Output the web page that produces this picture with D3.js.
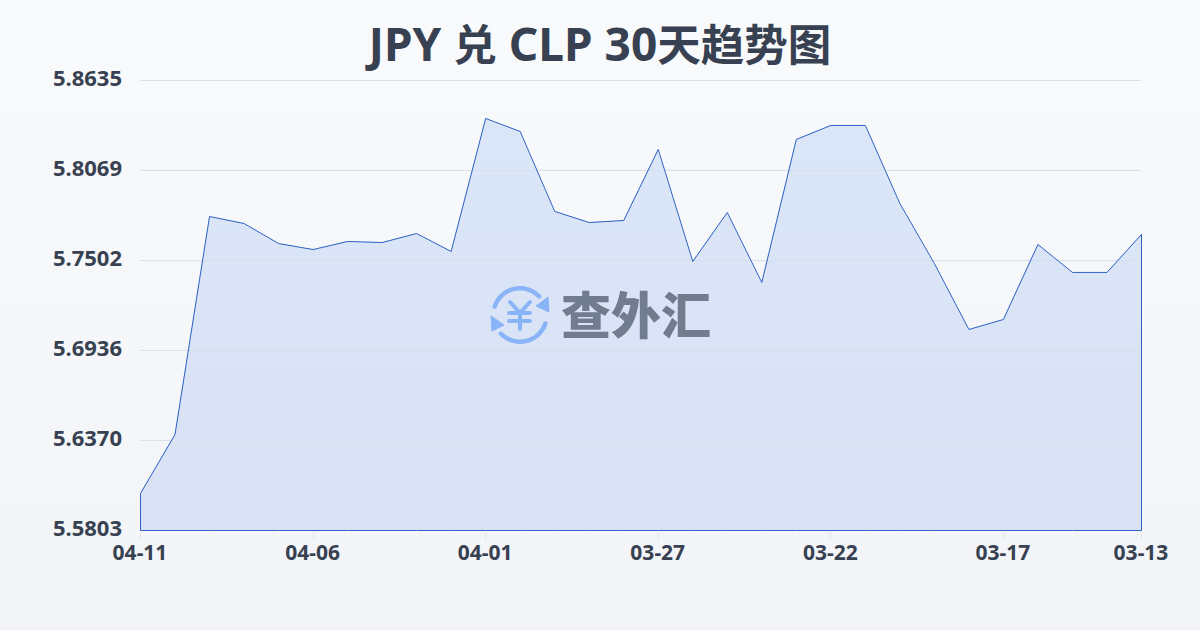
<!DOCTYPE html>
<html><head><meta charset="utf-8">
<script src="https://cdn.jsdelivr.net/npm/d3@7"></script>
<style>html,body{margin:0;padding:0;width:1200px;height:630px;overflow:hidden}svg{display:block}text{font-family:"Noto Sans","Noto Sans CJK SC",sans-serif}</style>
</head><body><svg id="c" width="1200" height="630"></svg>
<script>
const titleParts = ["JPY ","兑"," CLP 30","天趋势图"];
const dates = ["04-11","04-10","04-09","04-08","04-07","04-06","04-05","04-04","04-03","04-02","04-01","03-31","03-30","03-29","03-28","03-27","03-26","03-25","03-24","03-23","03-22","03-21","03-20","03-19","03-18","03-17","03-16","03-15","03-14","03-13"];
const rates = [5.6036,5.6407,5.7779,5.7735,5.7609,5.7571,5.7622,5.7615,5.7672,5.7559,5.8396,5.8314,5.7811,5.7741,5.7754,5.8201,5.7496,5.7804,5.7364,5.8264,5.8352,5.8352,5.7861,5.7483,5.7068,5.7131,5.7603,5.7427,5.7427,5.7666];
const yTicks = ["5.5803","5.6370","5.6936","5.7502","5.8069","5.8635"];
const xTicks = ["04-11","04-06","04-01","03-27","03-22","03-17","03-13"];
const watermark = "查外汇";

const svg = d3.select("#c");
const defs = svg.append("defs");
const bg = defs.append("linearGradient").attr("id","bg").attr("x1",0).attr("y1",0).attr("x2",0).attr("y2",1);
bg.append("stop").attr("offset",0).attr("stop-color","#f9fafc");
bg.append("stop").attr("offset",1).attr("stop-color","#f2f4f7");
const fg = defs.append("linearGradient").attr("id","fg").attr("gradientUnits","userSpaceOnUse").attr("x1",0).attr("y1",80).attr("x2",0).attr("y2",530);
fg.append("stop").attr("offset",0).attr("stop-color","#dbe6f9");
fg.append("stop").attr("offset",1).attr("stop-color","#d9e2f4");
svg.append("rect").attr("width",1200).attr("height",630).attr("fill","url(#bg)");

const x = d3.scalePoint().domain(dates).range([140,1141]);
const y = d3.scaleLinear().domain([5.5803,5.8635]).range([530,80]);

svg.append("text").attr("x",600).attr("y",61).attr("text-anchor","middle")
  .attr("font-weight",700).attr("fill","#374151")
  .selectAll("tspan").data(titleParts).join("tspan")
  .attr("font-size",(d,i)=>i%2?43.5:46).text(d=>d);

svg.append("g").selectAll("line").data(yTicks.slice(1)).join("line")
  .attr("x1",140).attr("x2",1141).attr("y1",d=>y(+d)+.5).attr("y2",d=>y(+d)+.5)
  .attr("stroke","#e5e7eb").attr("stroke-width",1);

const area = d3.area().x((d,i)=>x(dates[i])).y0(y(5.5803)).y1(d=>y(d));
svg.append("path").datum(rates).attr("d",area).attr("fill","url(#fg)");
svg.append("g").selectAll("line").data(yTicks.slice(1)).join("line")
  .attr("x1",140).attr("x2",1141).attr("y1",d=>y(+d)+.5).attr("y2",d=>y(+d)+.5)
  .attr("stroke","#d3dbe9").attr("stroke-width",1).attr("stroke-opacity",.6);
svg.append("path").datum(rates).attr("d",area).attr("transform","translate(.5,.5)").attr("fill","none").attr("stroke","#2f62c4").attr("stroke-width",1);

svg.append("g").selectAll("line").data(xTicks).join("line")
  .attr("x1",d=>Math.round(x(d))+.5).attr("x2",d=>Math.round(x(d))+.5).attr("y1",531).attr("y2",540)
  .attr("stroke","#e5e7eb");

svg.append("g").selectAll("text").data(yTicks).join("text")
  .attr("x",122).attr("y",d=>y(+d)+6).attr("text-anchor","end")
  .attr("font-size",22).attr("font-weight",700).attr("fill","#374151").text(d=>d);
svg.append("g").selectAll("text").data(xTicks).join("text")
  .attr("x",d=>x(d)).attr("y",560).attr("text-anchor","middle")
  .attr("font-size",21).attr("font-weight",700).attr("fill","#374151").text(d=>d);

// watermark logo
const logo = svg.append("g").attr("transform","translate(520,315)");
const blue = "#8ab4f8";
const arc = d3.arc().innerRadius(24.5).outerRadius(29).cornerRadius(2.2);
logo.append("path").attr("d",arc({startAngle:-1.33,endAngle:0.88})).attr("fill",blue);
logo.append("path").attr("d",arc({startAngle:1.81,endAngle:4.02})).attr("fill",blue);
logo.append("path").attr("d","M28,-18 L29,-3 L16,-9 Z").attr("fill",blue).attr("stroke",blue).attr("stroke-linejoin","round");
logo.append("path").attr("d","M-29,1 L-28,16 L-16,10 Z").attr("fill",blue).attr("stroke",blue).attr("stroke-linejoin","round");
logo.append("path").attr("d","M-10,-13 L0,-2 L10,-13 M-11,-2 H10 M-11,6 H10 M0,-2 V14")
  .attr("fill","none").attr("stroke",blue).attr("stroke-width",4).attr("stroke-linecap","round").attr("stroke-linejoin","round");
svg.append("text").attr("x",636).attr("y",334).attr("text-anchor","middle")
  .style("font-family","'Noto Sans CJK SC'")
  .attr("font-size",50).attr("font-weight",900).attr("fill","#717c8f").text(watermark);
</script></body></html>
